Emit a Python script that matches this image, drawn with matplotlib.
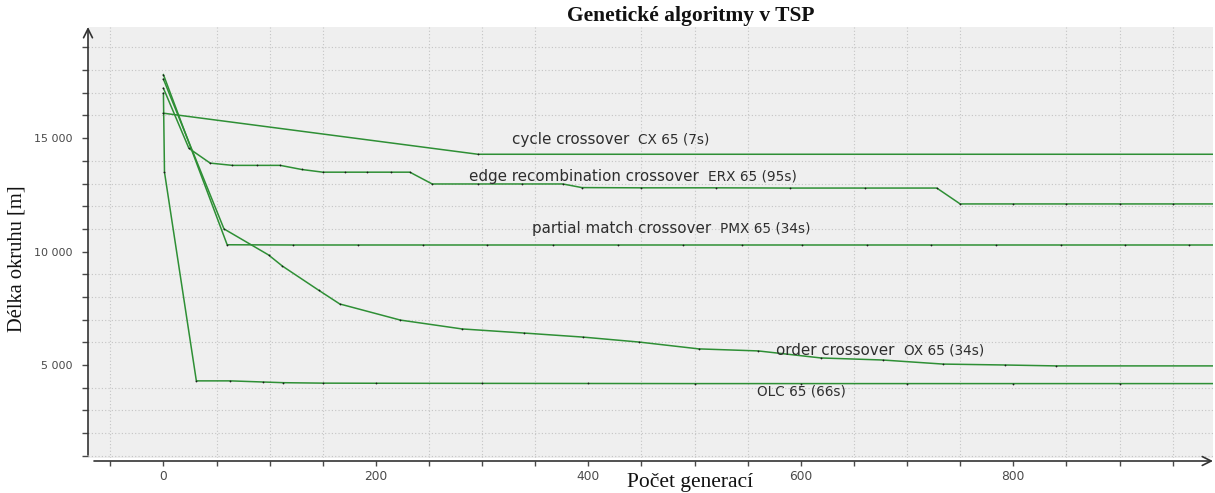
import numpy as np
import matplotlib
matplotlib.use("Agg")
import matplotlib.pyplot as plt
from matplotlib.ticker import MultipleLocator, FuncFormatter

# ── Data ───────────────────────────────────────────────────────────────────
cx_x = [0, 296, 990]
cx_y = [16100, 14290, 14290]

erx_x = [0, 24, 44, 65, 88, 110, 130, 150, 171, 192, 214, 232, 253, 296, 338, 376,
         394, 450, 520, 590, 660, 728, 750, 800, 850, 900, 950, 990]
erx_y = [17200, 14550, 13900, 13800, 13800, 13800, 13620, 13500, 13500, 13500, 13500, 13500,
         12980, 12980, 12980, 12980, 12820, 12810, 12810, 12800, 12800, 12800,
         12100, 12100, 12100, 12100, 12100, 12100]

pmx_x = [0, 60, 122, 183, 244, 305, 367, 428, 489, 545, 601, 662, 723, 784, 845, 905, 965, 990]
pmx_y = [17800, 10300, 10290, 10290, 10290, 10290, 10290, 10290, 10290, 10290,
         10290, 10290, 10290, 10290, 10290, 10290, 10290, 10290]

ox_x = [0, 57, 99, 112, 146, 166, 223, 281, 339, 395, 448, 504, 560, 619, 677, 734, 792, 840, 990]
ox_y = [17600, 11000, 9850, 9360, 8300, 7690, 6980, 6590, 6410, 6230, 6010, 5710, 5620,
        5310, 5220, 5040, 5000, 4960, 4960]

olc_x = [0, 1, 31, 63, 94, 113, 150, 200, 300, 400, 500, 600, 700, 800, 900, 990]
olc_y = [16980, 13500, 4300, 4300, 4250, 4220, 4200, 4195, 4190, 4185, 4180, 4180,
         4180, 4180, 4180, 4180]

series = [(cx_x, cx_y), (erx_x, erx_y), (pmx_x, pmx_y), (ox_x, ox_y), (olc_x, olc_y)]

# (big label, small label, x, y) for the in-plot captions
captions = [
    ("cycle crossover", "CX 65 (7s)", 328, 14930),
    ("edge recombination crossover", "ERX 65 (95s)", 288, 13300),
    ("partial match crossover", "PMX 65 (34s)", 347, 11010),
    ("order crossover", "OX 65 (34s)", 577, 5620),
    ("", "OLC 65 (66s)", 559, 3810),
]

XLIM = (-71, 988)
YLIM = (900, 19900)

LINE_COLOR = "#2e8f35"
TEXT_COLOR = "#2e2e2e"
TICK_COLOR = "#4a4a4a"

W, H = 1215, 493
fig = plt.figure(figsize=(W / 100, H / 100), dpi=100)
ax = fig.add_axes([88 / W, (H - 458) / H, (1213 - 88) / W, (458 - 27) / H])
ax.set_facecolor("#efefef")
ax.set_xlim(*XLIM)
ax.set_ylim(*YLIM)

for xs, ys in series:
    ax.plot(xs, ys, color=LINE_COLOR, lw=1.1, zorder=3)
    ax.plot(xs, ys, ls="none", marker="o", ms=1.3, mec="none", mfc="#1a1a1a", zorder=4)

# captions: large part + smaller series name
fig.canvas.draw()
for big, small, x, y in captions:
    if big:
        t = ax.text(x, y, big, fontsize=10.9, color=TEXT_COLOR, ha="left", va="center", zorder=5)
        bb = t.get_window_extent(renderer=fig.canvas.get_renderer())
        x2 = ax.transData.inverted().transform((bb.x1 + 9, 0))[0]
    else:
        x2 = x
    ax.text(x2, y, small, fontsize=9.8, color=TEXT_COLOR, ha="left", va="center", zorder=5)

# ticks
ax.xaxis.set_major_locator(MultipleLocator(200))
ax.xaxis.set_minor_locator(MultipleLocator(50))
ax.yaxis.set_major_locator(MultipleLocator(5000))
ax.yaxis.set_minor_locator(MultipleLocator(1000))
ax.yaxis.set_major_formatter(FuncFormatter(lambda v, p: f"{int(v):,}".replace(",", " ")))

ax.grid(which="minor", color="#c4c4c4", linestyle=(0, (1, 2)), linewidth=0.8)
ax.grid(which="major", visible=False)
ax.set_axisbelow(True)

ax.tick_params(axis="both", which="both", direction="out", color=TICK_COLOR,
               labelcolor=TICK_COLOR, width=1)
ax.tick_params(axis="y", which="both", length=4.3, pad=7, labelsize=8)
ax.tick_params(axis="x", which="both", length=3.5, pad=3, labelsize=8.8)

for side in ["top", "right", "left", "bottom"]:
    ax.spines[side].set_visible(False)
ax.spines["bottom"].set_position(("outward", 2))

# axis lines with open arrowheads
ax.annotate("", xy=(88, H - 27), xytext=(88, H - 455), xycoords="figure pixels",
            textcoords="figure pixels",
            arrowprops=dict(arrowstyle="->", color="#333333", lw=1.2, mutation_scale=16,
                            shrinkA=0, shrinkB=0))
ax.annotate("", xy=(1213, H - 461), xytext=(94, H - 461), xycoords="figure pixels",
            textcoords="figure pixels",
            arrowprops=dict(arrowstyle="->", color="#333333", lw=1.2, mutation_scale=16,
                            shrinkA=0, shrinkB=0))

fig.text(691 / W, 1 - 16 / H, "Genetické algoritmy v TSP", ha="center", va="center",
         fontsize=15.5, fontweight="bold", family="Liberation Serif", color="#111111")
fig.text(690 / W, 1 - 483 / H, "Počet generací", ha="center", va="center",
         fontsize=15.5, family="Liberation Serif", color="#111111")
fig.text(17 / W, 1 - 259 / H, "Délka okruhu [m]", ha="center", va="center", rotation=90,
         fontsize=14.8, family="Liberation Serif", color="#111111")

fig.savefig("out.png", dpi=100)
